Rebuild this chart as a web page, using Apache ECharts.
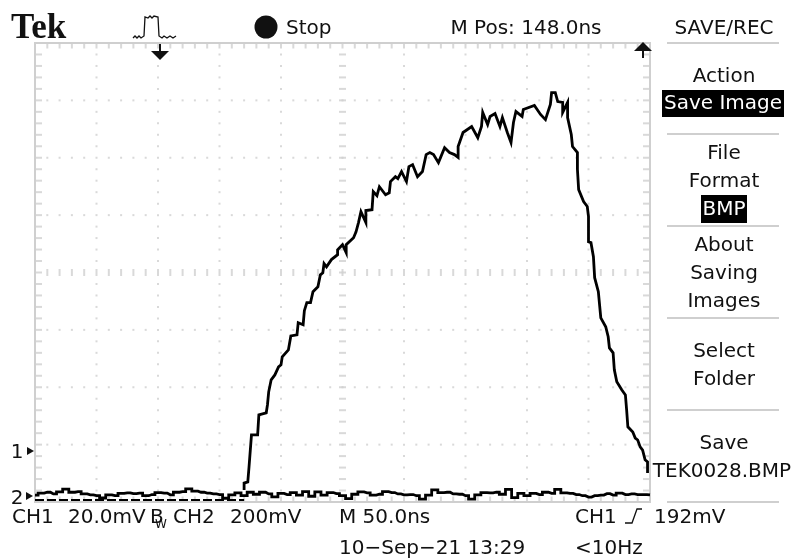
<!DOCTYPE html>
<html><head><meta charset="utf-8">
<style>html,body{margin:0;padding:0;background:#fff}#c{width:793px;height:559px;filter:blur(0.45px)}</style>
<script src="https://cdn.jsdelivr.net/npm/echarts@6/dist/echarts.min.js"></script>
</head><body><div id="c"></div>
<script>
// Time from the left edge of the screen (ns) and voltage above the lower edge (mV)
const ch1Times = [170,170,173,174,175,176,176,181,182,188,189,190,192,195,198,200,201,206,208,213,214,218,219,221,224,226,230,232,234,235,237,241,246,246,250,253,253,259,261,263,265,269,269,274,275,278,280,285,288,289,293,295,298,302,304,307,311,315,318,321,324,328,333,337,341,344,344,348,355,360,363,364,368,370,374,378,380,384,387,389,391,396,397,406,411,415,419,420,423,425,429,429,433,433,436,437,441,441,442,446,449,450,450,452,454,455,458,460,464,466,467,470,471,473,477,480,481,482,486,488,490,492,494,496,498,498];
const ch1Values = [4.2,6.6,7.0,12.2,17.8,17.8,23.4,23.4,30.4,31.1,33.9,38.4,42.6,44.3,47.1,47.8,50.6,53.0,57.9,58.3,62.5,61.8,66.7,69.5,69.5,73.3,75.0,79.2,79.9,83.1,82.0,84.5,86.2,87.9,89.7,86.9,89.7,92.1,94.2,97.4,101.2,97.4,101.6,101.9,108.2,106.8,109.9,107.1,107.8,111.7,113.4,112.7,115.2,111.7,116.9,117.6,113.4,115.2,121.1,121.8,121.1,118.3,123.5,121.8,121.1,120.1,123.9,128.8,130.9,127.0,130.9,135.8,131.6,134.4,135.4,130.9,134.0,128.8,125.3,132.3,136.1,134.4,136.8,138.2,135.1,133.3,138.6,142.7,142.7,139.6,139.3,135.8,139.3,134.0,128.1,123.9,121.8,115.9,108.9,104.7,103.0,99.5,90.7,90.4,85.5,78.2,73.3,64.2,61.1,57.6,53.7,52.0,46.1,41.9,39.1,37.3,32.1,26.2,24.4,22.3,21.6,19.2,18.1,14.7,14.0,10.1];
const ch1BaseTimes = [0,170];
const ch1BaseValues = [0.7,0.7];
// CH2 sampled every 5 ns across the screen
const ch2Values = [2.4,3.1,3.4,2.8,3.5,4.5,3.4,3.6,2.8,2.5,2.2,1.4,2.5,2.2,3.0,3.2,2.9,3.1,2.2,2.6,3.3,3.1,2.5,3.4,3.6,4.6,3.8,3.4,3.1,2.8,2.6,1.3,2.5,3.2,2.2,3.4,2.7,3.4,2.8,1.8,3.0,2.6,3.3,2.4,3.6,2.0,3.5,2.4,3.3,2.9,2.2,1.2,2.7,3.5,3.2,2.4,2.7,3.6,3.3,2.8,2.5,2.6,2.2,1.0,2.4,4.2,3.3,3.4,2.8,2.7,2.2,1.0,2.5,3.3,3.2,3.4,2.7,4.4,1.5,3.0,2.2,3.0,2.6,3.4,3.0,4.4,3.2,3.0,2.6,2.2,1.7,2.2,2.4,2.9,2.4,3.1,2.6,2.8,2.6,2.6,2.5];

const GREY = '#cfcfcf', INK = '#111';
const X_MAX = 500, Y_MAX = 160, X_DIV = 50, Y_DIV = 20, X_SUB = 10, Y_SUB = 4;

const dots = [], vTicksTop = [], vTicksBottom = [], hTicksLeft = [], hTicksRight = [], centerV = [], centerH = [];
for (let x = X_SUB; x < X_MAX; x += X_SUB) {
  for (let y = Y_DIV; y < Y_MAX; y += Y_DIV) if (y !== 80) dots.push([x, y]);
  vTicksTop.push([x, Y_MAX]); vTicksBottom.push([x, 0]); centerV.push([x, 80]);
}
for (let y = Y_SUB; y < Y_MAX; y += Y_SUB) {
  for (let x = X_DIV; x < X_MAX; x += X_DIV) if (x !== 250 && y % Y_DIV !== 0) dots.push([x, y]);
  hTicksLeft.push([0, y]); hTicksRight.push([X_MAX, y]); centerH.push([250, y]);
}
function marks(name, data, size, offset) {
  return {name, type:'scatter', data, symbol:'rect', symbolSize:size, symbolOffset:offset||[0,0], silent:true, z:1,
    itemStyle:{color:GREY}, animation:false};
}
const BASE = '20px "DejaVu Sans"';
function text(t, x, y, o) {
  o = o || {};
  return {type:'text', x, y:y+1.5, z:10, style:{text:t, fill:o.fill||INK, font:(o.font||BASE), textAlign:o.align||'center', textVerticalAlign:'middle'}};
}
function rule(y){return {type:'line', z:5, shape:{x1:667,y1:y,x2:779,y2:y}, style:{stroke:GREY,lineWidth:2}};}
function poly(points, width){return {type:'polyline', z:10, shape:{points}, style:{stroke:INK,lineWidth:width||1.3,fill:null}};}
function fillPoly(points){return {type:'polygon', z:10, shape:{points}, style:{fill:INK}};}

const graphic = [
  text('Tek', 11, 27, {align:'left', font:'bold 35px "Liberation Serif"'}),
  poly([[133,38],[135,36],[137,38],[139,36],[141,38],[144,36],[145,17],[148,18],[150,16],[152,18],[154,16],[158,17],[159,36],[162,38],[164,36],[167,38],[170,36],[173,38],[176,36]]),
  {type:'circle', z:10, shape:{cx:266,cy:27,r:11.5}, style:{fill:INK}},
  text('Stop', 286, 27, {align:'left'}),
  text('M Pos: 148.0ns', 526, 27),
  fillPoly([[151,51],[169,51],[160,60]]),
  {type:'rect', z:10, shape:{x:159,y:44,width:2,height:8}, style:{fill:INK}},
  fillPoly([[634,51],[652,51],[643,42]]),
  {type:'rect', z:10, shape:{x:642,y:50,width:2,height:8}, style:{fill:INK}},
  text('1', 17, 451),
  fillPoly([[27,447],[34,451],[27,455]]),
  text('2', 17, 497),
  fillPoly([[26,492],[33,496],[26,500]]),
  rule(43), rule(134), rule(226), rule(318), rule(410), rule(502),
  text('SAVE/REC', 724, 27),
  text('Action', 724, 75),
  {type:'rect', z:5, shape:{x:662,y:90,width:122,height:27}, style:{fill:'#000'}},
  text('Save Image', 723, 102, {fill:'#fff'}),
  text('File', 724, 152),
  text('Format', 724, 180),
  {type:'rect', z:5, shape:{x:701,y:195,width:46,height:28}, style:{fill:'#000'}},
  text('BMP', 724, 208, {fill:'#fff'}),
  text('About', 724, 244),
  text('Saving', 724, 272),
  text('Images', 724, 300),
  text('Select', 724, 350),
  text('Folder', 724, 378),
  text('Save', 724, 442),
  text('TEK0028.BMP', 722, 470),
  text('CH1', 12, 516, {align:'left'}),
  text('20.0mV', 68, 516, {align:'left'}),
  text('B', 150, 516, {align:'left'}),
  text('W', 155, 523, {align:'left', font:'12px "DejaVu Sans"'}),
  text('CH2', 173, 516, {align:'left'}),
  text('200mV', 230, 516, {align:'left'}),
  text('M 50.0ns', 339, 516, {align:'left'}),
  text('CH1', 575, 516, {align:'left'}),
  poly([[625,523],[632,523],[637,509],[642,509]]),
  text('192mV', 654, 516, {align:'left'}),
  text('10\u2212Sep\u221221 13:29', 339, 547, {align:'left'}),
  text('<10Hz', 575, 547, {align:'left'})
];

const chart = echarts.init(document.getElementById('c'), null, {renderer:'canvas'});
const line = (name, data, width, extra) => Object.assign({name, type:'line', data, showSymbol:false, symbol:'none', silent:true, z:3,
  lineStyle:{color:'#000', width, join:'miter', cap:'butt'}, animation:false}, extra||{});
chart.setOption({
  animation:false,
  backgroundColor:'#fff',
  grid:{left:35, right:143, top:43, bottom:57, show:true, borderColor:GREY, borderWidth:2, backgroundColor:'#fff'},
  xAxis:{type:'value', min:0, max:X_MAX, interval:X_DIV, axisLine:{show:false}, axisTick:{show:false}, axisLabel:{show:false}, splitLine:{show:false}},
  yAxis:{type:'value', min:0, max:Y_MAX, interval:Y_DIV, axisLine:{show:false}, axisTick:{show:false}, axisLabel:{show:false}, splitLine:{show:false}},
  graphic,
  series:[
    marks('dots', dots, 2),
    marks('top ticks', vTicksTop, [2,5], [0,3]),
    marks('bottom ticks', vTicksBottom, [2,5], [0,-3]),
    marks('left ticks', hTicksLeft, [6,2], [4,0]),
    marks('right ticks', hTicksRight, [6,2], [-4,0]),
    marks('center v', centerV, [2,7]),
    marks('center h', centerH, [7,2]),
    line('CH1 base', ch1BaseTimes.map((t,i)=>[t,ch1BaseValues[i]]), 2.2, {lineStyle:{color:'#000',width:2.2,type:[9,3]}}),
    line('CH2', ch2Values.map((v,i)=>[i*5,v]), 2.8, {step:'middle'}),
    line('CH1', ch1Times.map((t,i)=>[t,ch1Values[i]]), 2.8)
  ]
});
</script></body></html>
